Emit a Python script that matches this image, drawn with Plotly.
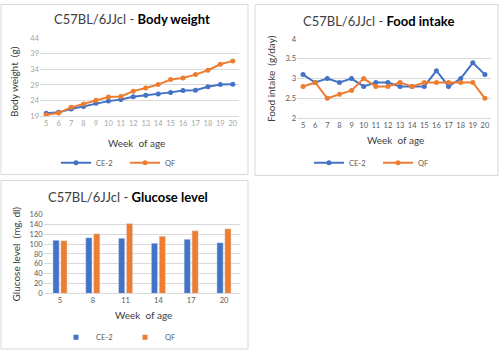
import plotly.graph_objects as go

weeks = list(range(5, 21))
bw_ce2 = [19.9, 20.2, 21.3, 22.1, 23.1, 23.8, 24.3, 25.2, 25.7, 26.1, 26.6, 27.2, 27.3, 28.4, 29.1, 29.2]
bw_qf = [19.4, 20.0, 21.8, 22.9, 24.1, 25.1, 25.3, 27.0, 28.0, 29.1, 30.7, 31.2, 32.3, 33.7, 35.6, 36.7]

fi_ce2 = [3.1, 2.9, 3.0, 2.9, 3.0, 2.8, 2.9, 2.9, 2.8, 2.8, 2.8, 3.2, 2.8, 3.0, 3.4, 3.1]
fi_qf = [2.8, 2.9, 2.5, 2.6, 2.7, 3.0, 2.8, 2.8, 2.9, 2.8, 2.9, 2.9, 2.9, 2.9, 2.9, 2.5]

gl_weeks = ["5", "8", "11", "14", "17", "20"]
gl_ce2 = [108, 113, 112, 102, 110, 103]
gl_qf = [107, 121, 142, 116, 127, 131]

series_names = ["CE-2", "QF"]
BLUE = "#4472C4"
ORANGE = "#ED7D31"
FONT = "Lato"
W, H = 500, 355

def px(x):
    return x / W

def py(y):
    return 1 - y / H

fig = go.Figure()

def line_trace(x, y, name, color, xa, ya, leg):
    return go.Scatter(x=x, y=y, name=name, mode="lines+markers",
                      line=dict(color=color, width=2),
                      marker=dict(color=color, size=5, symbol="circle"),
                      xaxis=xa, yaxis=ya, legend=leg)

fig.add_trace(line_trace(weeks, bw_ce2, series_names[0], BLUE, "x", "y", "legend"))
fig.add_trace(line_trace(weeks, bw_qf, series_names[1], ORANGE, "x", "y", "legend"))
fig.add_trace(line_trace(weeks, fi_ce2, series_names[0], BLUE, "x2", "y2", "legend2"))
fig.add_trace(line_trace(weeks, fi_qf, series_names[1], ORANGE, "x2", "y2", "legend2"))
fig.add_trace(go.Bar(x=gl_weeks, y=gl_ce2, name=series_names[0], marker_color=BLUE,
                     xaxis="x3", yaxis="y3", showlegend=False))
fig.add_trace(go.Bar(x=gl_weeks, y=gl_qf, name=series_names[1], marker_color=ORANGE,
                     xaxis="x3", yaxis="y3", showlegend=False))
# small square legend entries for the bar chart
for name, color in zip(series_names, [BLUE, ORANGE]):
    fig.add_trace(go.Scatter(x=[None], y=[None], name=name, mode="markers",
                             marker=dict(color=color, size=5, symbol="square"),
                             xaxis="x3", yaxis="y3", legend="legend3"))

GRID = "#D9D9D9"
tick_light = dict(size=7.5, color="#A6A6A6", family=FONT)
tick_dark = dict(size=7.5, color="#595959", family=FONT)

fig.update_layout(
    width=W, height=H,
    margin=dict(l=0, r=0, t=0, b=0),
    paper_bgcolor="white", plot_bgcolor="white",
    font=dict(family=FONT),
    barmode="group", bargap=0.52, bargroupgap=0.2,
    xaxis=dict(domain=[px(40), px(239)], range=[4.5, 20.5], tickmode="array",
               tickvals=weeks, ticks="", showgrid=False, showline=True,
               linecolor=GRID, linewidth=1, tickfont=tick_light, anchor="y",
               zeroline=False),
    yaxis=dict(domain=[py(115), py(35)], range=[19, 44], dtick=5, tick0=19,
               showgrid=True, gridcolor=GRID, gridwidth=1, showline=False,
               tickfont=tick_light, anchor="x", zeroline=False, ticks=""),
    xaxis2=dict(domain=[px(297), px(491)], range=[4.5, 20.5], tickmode="array",
                tickvals=weeks, ticks="", showgrid=False, showline=True,
                linecolor=GRID, linewidth=1, tickfont=tick_dark, anchor="y2",
                zeroline=False),
    yaxis2=dict(domain=[py(117), py(36)], range=[2, 4], dtick=0.5, tick0=2,
                showgrid=True, gridcolor=GRID, gridwidth=1, showline=False,
                tickfont=tick_dark, anchor="x2", zeroline=False, ticks=""),
    xaxis3=dict(domain=[px(43.6), px(240.4)], type="category", ticks="",
                showgrid=False, showline=True, linecolor=GRID, linewidth=1,
                tickfont=tick_dark, anchor="y3"),
    yaxis3=dict(domain=[py(297), py(216)], range=[0, 160], dtick=20,
                showgrid=True, gridcolor=GRID, gridwidth=1, showline=False,
                tickfont=tick_dark, anchor="x3", zeroline=False, ticks=""),
)

leg_common = dict(orientation="h", xanchor="center", yanchor="middle",
                  font=dict(size=7.5, color="#595959", family=FONT),
                  bgcolor="rgba(0,0,0,0)", tracegroupgap=0,
                  entrywidth=24, entrywidthmode="pixels")
fig.update_layout(
    legend=dict(x=px(125), y=py(163), **leg_common),
    legend2=dict(x=px(378), y=py(163), **leg_common),
    legend3=dict(x=px(125), y=py(342), **leg_common),
)

# panel borders
for (x0, y0, x1, y1) in [(1, 0.5, 248, 175), (255, 0.5, 498, 176), (1, 181, 248, 354)]:
    fig.add_shape(type="rect", xref="paper", yref="paper",
                  x0=px(x0), x1=px(x1), y0=py(y1), y1=py(y0),
                  line=dict(color="#D9D9D9", width=1), fillcolor="rgba(0,0,0,0)")

def ann(text, x, y, size, color="#404040", angle=0):
    fig.add_annotation(text=text, x=px(x), y=py(y), xref="paper", yref="paper",
                       showarrow=False, textangle=angle, xanchor="center",
                       yanchor="middle", font=dict(size=size, color=color, family=FONT))

ann("C57BL/6JJcl - <b><span style='color:#000'>Body weight</span></b>", 132, 15, 13)
ann("C57BL/6JJcl - <b><span style='color:#000'>Food intake</span></b>", 378, 17, 13)
ann("C57BL/6JJcl - <b><span style='color:#000'>Glucose level</span></b>", 128, 198, 13)

ann("Week  of age", 136, 143, 10)
ann("Body weight  (g)", 14, 80, 10, angle=-90)
ann("Week  of age", 395, 140, 10)
ann("Food intake  (g/day)", 271, 77, 10, angle=-90)
ann("Week  of age", 143, 319, 10)
ann("Glucose level  (mg, dl)", 16, 257, 10, angle=-90)

fig.write_html("out.html", config={"displayModeBar": False},
               post_script="document.body.style.margin='0';document.body.style.overflow='hidden';")
